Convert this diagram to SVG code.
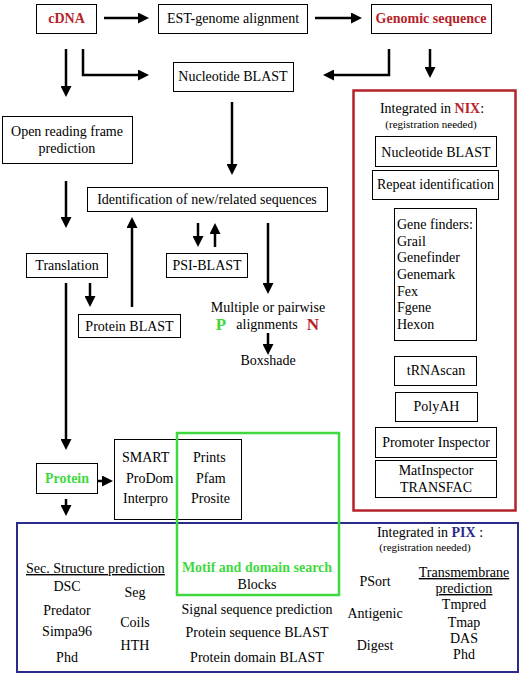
<svg xmlns="http://www.w3.org/2000/svg" width="526" height="678" viewBox="0 0 526 678" font-family="Liberation Serif, Times New Roman, serif" font-size="14">
<defs>
<style>
.c{text-anchor:middle}
.s{font-size:11px}
.red{fill:#b5232a;font-weight:bold}
.grn{fill:#3fd93f;font-weight:bold}
.blu{fill:#2b2b8a;font-weight:bold}
.box{fill:#fff;stroke:#000;stroke-width:1}
.con{fill:none;stroke:#000;stroke-width:2.5;marker-end:url(#ah)}
.u{text-decoration:underline}
</style>
<marker id="ah" viewBox="0 0 11 11" refX="2" refY="5.5" markerWidth="11" markerHeight="11" markerUnits="userSpaceOnUse" orient="auto">
<path d="M0,0 L11,5.5 L0,11 z" fill="#000"/>
</marker>
</defs>
<rect width="526" height="678" fill="#fff"/>

<g id="cdna"><rect class="box" x="36.5" y="4.5" width="60" height="29"/><text class="c red" x="66.5" y="23">cDNA</text></g>
<g id="est"><rect class="box" x="158.5" y="4.5" width="149" height="29"/><text class="c" x="233" y="23">EST-genome alignment</text></g>
<g id="genomic"><rect class="box" x="371.5" y="4.5" width="120" height="29"/><text class="c red" x="431" y="23">Genomic sequence</text></g>
<g id="nblast"><rect class="box" x="173.5" y="62.5" width="120" height="29"/><text class="c" x="233" y="81">Nucleotide BLAST</text></g>
<g id="orf"><rect class="box" x="2.5" y="116.5" width="130" height="47"/><text class="c" x="67" y="136">Open reading frame</text><text class="c" x="67" y="153">prediction</text></g>
<g id="ident"><rect class="box" x="87.5" y="187.5" width="240" height="24"/><text class="c" x="207" y="204">Identification of new/related sequences</text></g>
<g id="translation"><rect class="box" x="26.5" y="253.5" width="81" height="24"/><text class="c" x="67" y="270">Translation</text></g>
<g id="psiblast"><rect class="box" x="166.5" y="253.5" width="81" height="24"/><text class="c" x="207" y="270">PSI-BLAST</text></g>
<g id="pblast"><rect class="box" x="78.5" y="314.5" width="102" height="23"/><text class="c" x="129.5" y="331">Protein BLAST</text></g>
<g id="align"><text class="c" x="268" y="312">Multiple or pairwise</text><text class="c grn" x="221" y="330" font-size="17">P</text><text class="c" x="267" y="329">alignments</text><text class="c red" x="313" y="330" font-size="17">N</text></g>
<g id="boxshade"><text class="c" x="268" y="365">Boxshade</text></g>

<g id="nix">
<rect x="353.5" y="90.5" width="162" height="420" fill="none" stroke="#b5232a" stroke-width="2.5"/>
<text class="c" x="432" y="113">Integrated in <tspan class="red">NIX</tspan>:</text>
<text class="c s" x="431" y="128">(registration needed)</text>
<rect class="box" x="375.5" y="136.5" width="121" height="30"/><text class="c" x="436" y="157">Nucleotide BLAST</text>
<rect class="box" x="372.5" y="170.5" width="126" height="29"/><text class="c" x="435.5" y="189">Repeat identification</text>
<rect class="box" x="394.5" y="208.5" width="82" height="132"/>
<text x="397" y="229">Gene finders:</text>
<text x="397" y="246">Grail</text>
<text x="397" y="262">Genefinder</text>
<text x="397" y="279">Genemark</text>
<text x="397" y="296">Fex</text>
<text x="397" y="312">Fgene</text>
<text x="397" y="329">Hexon</text>
<rect class="box" x="394.5" y="356.5" width="82" height="29"/><text class="c" x="436" y="375">tRNAscan</text>
<rect class="box" x="395.5" y="392.5" width="82" height="29"/><text class="c" x="436.5" y="411">PolyAH</text>
<rect class="box" x="375.5" y="427.5" width="121" height="30"/><text class="c" x="436" y="447">Promoter Inspector</text>
<rect class="box" x="375.5" y="460.5" width="121" height="37"/><text class="c" x="436" y="475">MatInspector</text><text class="c" x="436" y="492">TRANSFAC</text>
</g>

<g id="protein"><rect class="box" x="36.5" y="463.5" width="61" height="30"/><text class="c grn" x="67" y="483">Protein</text></g>
<g id="smart"><rect class="box" x="114.5" y="439.5" width="127" height="80"/>
<text x="122" y="462">SMART</text><text x="126" y="483">ProDom</text><text x="123" y="503">Interpro</text>
<text x="193" y="462">Prints</text><text x="196" y="483">Pfam</text><text x="191" y="503">Prosite</text>
</g>

<g id="pix">
<rect x="17" y="523" width="501" height="149" fill="none" stroke="#2b2b8a" stroke-width="2"/>
<text class="c" x="430" y="537">Integrated in <tspan class="blu">PIX</tspan> :</text>
<text class="c s" x="425" y="551">(registration needed)</text>
<text class="u" x="26" y="573">Sec. Structure prediction</text>
<text class="c" x="67" y="591">DSC</text>
<text class="c" x="67" y="615">Predator</text>
<text class="c" x="67" y="636">Simpa96</text>
<text class="c" x="67" y="662">Phd</text>
<text class="c" x="135" y="597">Seg</text>
<text class="c" x="135" y="627">Coils</text>
<text class="c" x="135" y="650">HTH</text>
<text class="c grn" x="257" y="572">Motif and domain search</text>
<text class="c" x="257" y="589">Blocks</text>
<text class="c" x="257" y="614">Signal sequence prediction</text>
<text class="c" x="257" y="637">Protein sequence BLAST</text>
<text class="c" x="257" y="662">Protein domain BLAST</text>
<text class="c" x="375" y="586">PSort</text>
<text class="c" x="375" y="618">Antigenic</text>
<text class="c" x="375" y="650">Digest</text>
<text class="c u" x="464" y="577">Transmembrane</text>
<text class="c u" x="464" y="593">prediction</text>
<text class="c" x="464" y="609">Tmpred</text>
<text class="c" x="464" y="627">Tmap</text>
<text class="c" x="464" y="643">DAS</text>
<text class="c" x="464" y="659">Phd</text>
</g>

<g id="motif"><rect x="177" y="433" width="162" height="162" fill="none" stroke="#3fd93f" stroke-width="2.5"/></g>

<g id="connectors">
<path class="con" d="M104,18 H140"/>
<path class="con" d="M315,18 H353"/>
<path class="con" d="M66,49 V88"/>
<path class="con" d="M83,49 V75 H140"/>
<path class="con" d="M389,49 V75 H332"/>
<path class="con" d="M430,49 V69"/>
<path class="con" d="M232,102 V166"/>
<path class="con" d="M66,181 V219"/>
<path class="con" d="M198,223 V238"/>
<path class="con" d="M215,247 V232"/>
<path class="con" d="M268,223 V285"/>
<path class="con" d="M66,283 V441"/>
<path class="con" d="M90,283 V298"/>
<path class="con" d="M132,307 V226"/>
<path class="con" d="M268,333 V346"/>
<path class="con" d="M97,481 H104"/>
<path class="con" d="M66,499 V507"/>
</g>
</svg>
